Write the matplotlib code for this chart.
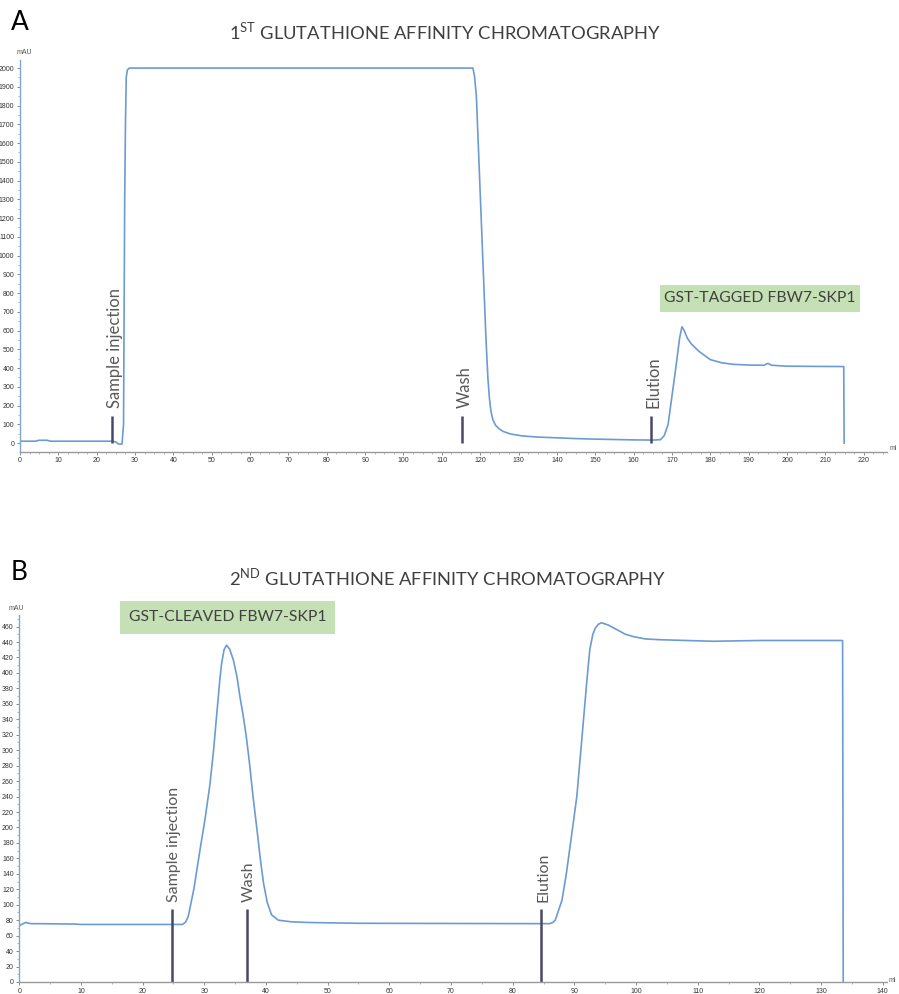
import matplotlib
matplotlib.use("Agg")
import matplotlib.pyplot as plt
from matplotlib.ticker import MultipleLocator
from matplotlib.patches import Rectangle

plt.rcParams['font.family'] = ['Lato', 'DejaVu Sans']
plt.rcParams['mathtext.fontset'] = 'custom'
plt.rcParams['mathtext.rm'] = 'Lato'

# --- panel A: 1st glutathione affinity run ---
vol_a = [0, 4, 5, 7, 8, 24, 25, 25.5, 26.0, 26.6, 27.0, 27.3, 27.5, 27.7, 28.0, 28.5,
         118.1, 118.5, 119.0, 121.5, 122.0, 122.4, 122.8, 123.3, 124, 125, 126, 128, 131,
         135, 140, 145, 150, 155, 160, 165, 167, 168, 169, 170, 171, 172, 172.6, 173.2,
         174, 175, 177, 180, 183, 186, 190, 194, 195, 196, 200, 214.8, 214.9]
mau_a = [10, 10, 15, 15, 10, 10, 6, -3, -6, -5, 100, 1300, 1700, 1950, 1990, 2000,
         2000, 1960, 1850, 560, 350, 240, 170, 125, 95, 75, 62, 48, 38,
         32, 28, 24, 21, 19, 17, 16, 18, 40, 100, 250, 400, 560, 620, 600,
         560, 530, 490, 445, 428, 420, 416, 415, 425, 415, 410, 408, 0]
marks_a = [24.1, 115.2, 164.5]
marks_a_top = 145
labels_marks = ['Sample injection', 'Wash', 'Elution']

# --- panel B: 2nd glutathione affinity run ---
vol_b = [0, 0.5, 1, 1.5, 2, 3, 9, 10, 26.5, 27.0, 27.4, 28.3, 29.3, 30.1, 30.9, 31.5,
         32.0, 32.5, 32.8, 33.2, 33.6, 34.1, 34.7, 35.3, 35.8, 36.3, 36.8, 37.3, 37.9,
         38.5, 39.1, 39.6, 40.2, 40.9, 42, 44, 47, 55, 86.0, 86.5, 86.9, 88.0, 88.7, 89.3,
         90.4, 91.2, 92.0, 92.5, 93.0, 93.4, 93.9, 94.4, 95.5, 96.9, 98.3, 99.6, 101.5,
         103.9, 112.5, 120, 133.5, 133.6]
mau_b = [73, 75, 77, 76, 75.5, 75.5, 75, 74.5, 74.5, 78, 85, 120, 171, 210, 255, 300,
         345, 390, 412, 430, 436, 431, 417, 395, 368, 345, 318, 285, 240,
         200, 158, 128, 103, 87, 80, 78, 77, 76, 75.5, 77, 80, 106, 140, 175,
         240, 313, 387, 430, 450, 458, 463, 465, 462, 456, 450, 447, 444,
         443, 441, 442, 442, 0]
marks_b = [24.8, 36.9, 84.6]
marks_b_top = 95

trace_col = '#6b9bd3'
mark_col = '#4a4869'
txt_col = '#595959'
green = '#c5e0b4'

fig = plt.figure(figsize=(8.99, 9.94), dpi=100)


def px(x, y):
    return x / 899, (994 - y) / 994


def style_axes(ax, xmaj, xmin, ymaj, ymin):
    for s in ['top', 'right']:
        ax.spines[s].set_visible(False)
    ax.spines['left'].set_color('#7fa6d6')
    ax.spines['bottom'].set_color('#9a9a9a')
    ax.spines['left'].set_linewidth(1.0)
    ax.spines['bottom'].set_linewidth(1.0)
    ax.xaxis.set_major_locator(MultipleLocator(xmaj))
    ax.xaxis.set_minor_locator(MultipleLocator(xmin))
    ax.yaxis.set_major_locator(MultipleLocator(ymaj))
    ax.yaxis.set_minor_locator(MultipleLocator(ymin))
    ax.tick_params(which='major', length=2.5, width=0.6, color='#777777', pad=1.5,
                   labelsize=5, labelcolor='#333333')
    ax.tick_params(which='minor', length=1.5, width=0.5, color='#999999')


# panel A
ax1 = fig.add_axes([20 / 899, (994 - 451.7) / 994, 866.7 / 899, 391.7 / 994])
ax1.plot(vol_a, mau_a, color=trace_col, lw=1.2)
ax1.vlines(marks_a, 0, marks_a_top, color=mark_col, lw=1.8)
for xv, lab in zip(marks_a, labels_marks):
    ax1.annotate(lab, xy=(xv, marks_a_top), xytext=(2, 6), textcoords='offset points',
                 rotation=90, ha='center', va='bottom', fontsize=12, color=txt_col)
ax1.set_xlim(0, 226.0)
ax1.set_ylim(-46, 2043)
style_axes(ax1, 10, 2.5, 100, 50)
ax1.set_yticks(range(0, 2001, 100))
ax1.set_xticks(range(0, 221, 10))
for lab in ax1.get_xticklabels() + ax1.get_yticklabels():
    lab.set_family('Liberation Sans')

# panel B
ax2 = fig.add_axes([19.3 / 899, 12 / 994, 867.4 / 899, 367 / 994])
ax2.plot(vol_b, mau_b, color=trace_col, lw=1.2)
ax2.vlines(marks_b, 0, marks_b_top, color=mark_col, lw=1.8)
for xv, lab in zip(marks_b, labels_marks):
    ax2.annotate(lab, xy=(xv, marks_b_top), xytext=(1.5, 5), textcoords='offset points',
                 rotation=90, ha='center', va='bottom', fontsize=11.5, color=txt_col)
ax2.set_xlim(0, 140.65)
ax2.set_ylim(0, 475)
style_axes(ax2, 10, 5, 20, 10)
ax2.set_yticks(range(0, 461, 20))
ax2.set_xticks(range(0, 141, 10))
for lab in ax2.get_xticklabels() + ax2.get_yticklabels():
    lab.set_family('Liberation Sans')

# unit labels
for (x, y, s) in [(24.5, 53, 'mAU'), (16, 609, 'mAU'), (893, 449, 'ml'), (892, 980, 'ml')]:
    fig.text(*px(x, y), s, ha='center', va='center', fontsize=5,
             family='Liberation Sans', color='#555555')

# titles and panel letters
fig.text(*px(445, 31), r'1$^{\mathrm{ST}}$ GLUTATHIONE AFFINITY CHROMATOGRAPHY',
         ha='center', va='center', fontsize=13.2, color='#3f3f3f')
fig.text(*px(448, 577), r'2$^{\mathrm{ND}}$ GLUTATHIONE AFFINITY CHROMATOGRAPHY',
         ha='center', va='center', fontsize=13.2, color='#3f3f3f')
fig.text(*px(20, 23), 'A', ha='center', va='center', fontsize=19, color='black')
fig.text(*px(19, 573), 'B', ha='center', va='center', fontsize=19, color='black')

# green label boxes
fig.patches.append(Rectangle(px(660, 312), 200 / 899, 27 / 994, transform=fig.transFigure,
                             facecolor=green, edgecolor='none'))
fig.text(*px(760, 298.5), 'GST-TAGGED FBW7-SKP1', ha='center', va='center',
         fontsize=11.3, color='#404040')
fig.patches.append(Rectangle(px(120, 634), 215 / 899, 33.3 / 994, transform=fig.transFigure,
                             facecolor=green, edgecolor='none'))
fig.text(*px(227.5, 617.3), 'GST-CLEAVED FBW7-SKP1', ha='center', va='center',
         fontsize=11.3, color='#404040')

fig.savefig('out.png', dpi=100)
